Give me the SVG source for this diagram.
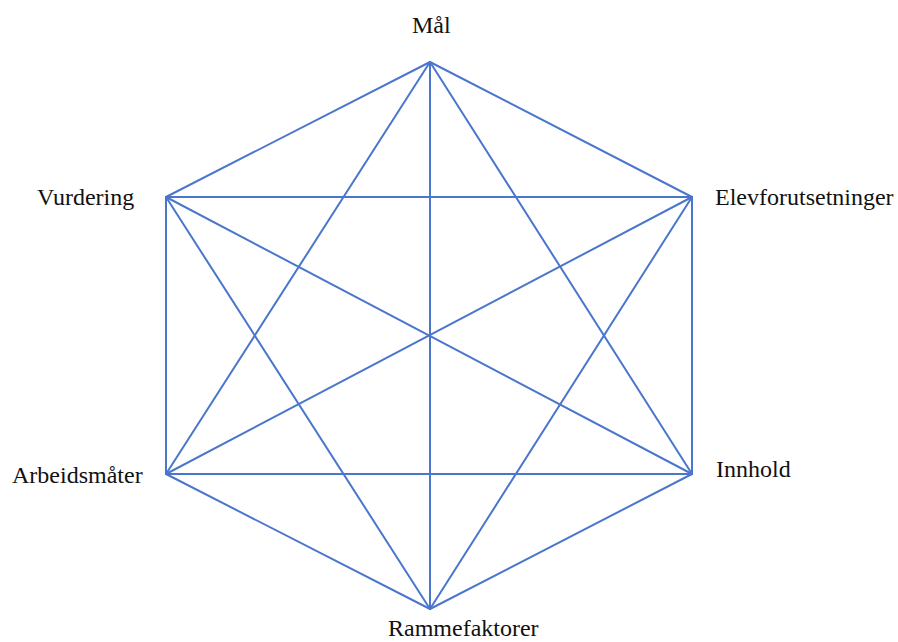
<svg xmlns="http://www.w3.org/2000/svg" width="898" height="642" viewBox="0 0 898 642">
<style>
.lbl{font-family:"Liberation Serif","Times New Roman",serif;font-size:24px;fill:#111}
.e{stroke:#4a76cc;stroke-width:2;fill:none;stroke-linecap:round}
</style>
<rect width="898" height="642" fill="#fff"/>
<g id="connectors">
<line class="e" x1="430" y1="62" x2="692" y2="197"/>
<line class="e" x1="430" y1="62" x2="692" y2="474"/>
<line class="e" x1="430" y1="62" x2="430" y2="609"/>
<line class="e" x1="430" y1="62" x2="166" y2="474"/>
<line class="e" x1="430" y1="62" x2="166" y2="197"/>
<line class="e" x1="692" y1="197" x2="692" y2="474"/>
<line class="e" x1="692" y1="197" x2="430" y2="609"/>
<line class="e" x1="692" y1="197" x2="166" y2="474"/>
<line class="e" x1="692" y1="197" x2="166" y2="197"/>
<line class="e" x1="692" y1="474" x2="430" y2="609"/>
<line class="e" x1="692" y1="474" x2="166" y2="474"/>
<line class="e" x1="692" y1="474" x2="166" y2="197"/>
<line class="e" x1="430" y1="609" x2="166" y2="474"/>
<line class="e" x1="430" y1="609" x2="166" y2="197"/>
<line class="e" x1="166" y1="474" x2="166" y2="197"/>
</g>
<g id="node-mal"><text class="lbl" x="412" y="33">Mål</text></g>
<g id="node-elevforutsetninger"><text class="lbl" x="715" y="205">Elevforutsetninger</text></g>
<g id="node-innhold"><text class="lbl" x="716" y="477">Innhold</text></g>
<g id="node-rammefaktorer"><text class="lbl" x="388" y="636">Rammefaktorer</text></g>
<g id="node-arbeidsmater"><text class="lbl" x="12" y="483">Arbeidsmåter</text></g>
<g id="node-vurdering"><text class="lbl" x="37" y="205">Vurdering</text></g>
</svg>
